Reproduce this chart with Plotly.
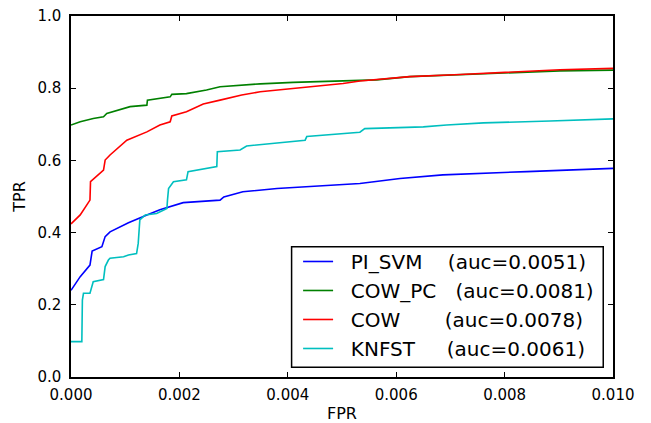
import plotly.graph_objects as go

# ROC curves (FPR limited to 0..0.01)
svm_fpr = [0, 0.00017, 0.00035, 0.00039, 0.00057, 0.00063, 0.00072, 0.00106, 0.0014, 0.00164,
           0.00207, 0.00275, 0.00282, 0.00317, 0.0038, 0.00533, 0.00607, 0.00686, 0.00841, 0.01]
svm_tpr = [0.24, 0.278, 0.31, 0.349, 0.361, 0.389, 0.402, 0.427, 0.449, 0.463,
           0.483, 0.49, 0.499, 0.513, 0.522, 0.536, 0.55, 0.56, 0.569, 0.578]

cowpc_fpr = [0, 0.00017, 0.00041, 0.0006, 0.00066, 0.0009, 0.00109, 0.0014, 0.00141, 0.00183,
             0.00186, 0.00213, 0.0025, 0.00275, 0.00349, 0.0041, 0.00502, 0.00564, 0.00625,
             0.00718, 0.00822, 0.00902, 0.01]
cowpc_tpr = [0.698, 0.707, 0.716, 0.721, 0.73, 0.74, 0.749, 0.753, 0.767, 0.776,
             0.783, 0.785, 0.795, 0.804, 0.812, 0.816, 0.82, 0.823, 0.832,
             0.837, 0.844, 0.848, 0.85]

cow_fpr = [0, 0.00017, 0.00035, 0.00036, 0.0006, 0.00063, 0.00072, 0.0009, 0.00103, 0.0014,
           0.00164, 0.00183, 0.00186, 0.00213, 0.00244, 0.00275, 0.00315, 0.00349, 0.0041,
           0.00502, 0.00533, 0.00625, 0.00718, 0.00822, 0.00902, 0.01]
cow_tpr = [0.424, 0.449, 0.49, 0.541, 0.573, 0.601, 0.615, 0.638, 0.656, 0.679,
           0.698, 0.707, 0.723, 0.735, 0.756, 0.767, 0.781, 0.79, 0.799,
           0.813, 0.82, 0.832, 0.838, 0.846, 0.851, 0.855]

knfst_fpr = [0, 0.0002, 0.00021, 0.00023, 0.00035, 0.00038, 0.00041, 0.0006, 0.00063, 0.00069,
             0.00072, 0.00097, 0.00106, 0.00121, 0.00124, 0.00127, 0.00137, 0.00158, 0.0017,
             0.00177, 0.00178, 0.0018, 0.00189, 0.00213, 0.00216, 0.0025, 0.00269, 0.0027,
             0.00312, 0.00324, 0.00373, 0.00432, 0.00435, 0.00502, 0.00533, 0.00542, 0.0065,
             0.00693, 0.00761, 0.00884, 0.01]
knfst_tpr = [0.098, 0.098, 0.213, 0.232, 0.232, 0.25, 0.264, 0.27, 0.306, 0.324,
             0.329, 0.333, 0.338, 0.342, 0.37, 0.435, 0.449, 0.453, 0.463,
             0.467, 0.49, 0.522, 0.541, 0.546, 0.569, 0.578, 0.583, 0.624,
             0.629, 0.64, 0.647, 0.656, 0.666, 0.675, 0.678, 0.688, 0.693,
             0.698, 0.704, 0.709, 0.715]

names = ["PI_SVM", "COW_PC", "COW", "KNFST"]
aucs = ["0.0051", "0.0081", "0.0078", "0.0061"]
pads = [4, 3, 7, 5]  # spaces between name and auc, as in the reference legend
colors = ["#0000ff", "#008000", "#ff0000", "#00bfbf"]
fprs = [svm_fpr, cowpc_fpr, cow_fpr, knfst_fpr]
tprs = [svm_tpr, cowpc_tpr, cow_tpr, knfst_tpr]

nbsp = "\u00a0"
fig = go.Figure()
for name, auc, pad, color, x, y in zip(names, aucs, pads, colors, fprs, tprs):
    label = nbsp * 2 + name + nbsp * pad + "(auc=" + auc + ")"
    fig.add_trace(go.Scatter(x=x, y=y, mode="lines", name=label, legendgroup=name,
                             line=dict(color=color, width=1.6)))

axis_style = dict(showline=True, linecolor="black", linewidth=1.5, mirror="ticks",
                  ticks="inside", ticklen=5, tickcolor="black", showgrid=False,
                  zeroline=False, automargin=False, tickfont=dict(size=15, color="black"))

fig.update_xaxes(range=[0, 0.01], tickvals=[0, 0.002, 0.004, 0.006, 0.008, 0.01],
                 tickformat=".3f", ticklabelstandoff=3,
                 title=dict(text="FPR", standoff=7, font=dict(size=16)), **axis_style)
fig.update_yaxes(range=[0, 1], tickvals=[0, 0.2, 0.4, 0.6, 0.8, 1.0],
                 tickformat=".1f", ticklabelstandoff=5,
                 title=dict(text="TPR", standoff=8, font=dict(size=16)), **axis_style)

# legend frame, matplotlib style (drawn as a box so its size matches the original)
fig.add_shape(type="rect", xref="paper", yref="paper", x0=0.407, x1=0.982, y0=0.027, y1=0.361,
              line=dict(color="black", width=1.5), fillcolor="white", layer="above")

fig.update_layout(
    width=651, height=423,
    margin=dict(l=71, r=38, t=16, b=46),
    plot_bgcolor="white", paper_bgcolor="white",
    font=dict(family="DejaVu Sans", size=15, color="black"),
    legend=dict(x=0.419, y=0.374, xanchor="left", yanchor="top",
                borderwidth=0, bgcolor="rgba(0,0,0,0)",
                tracegroupgap=0, font=dict(size=20)),
)

fig.write_html("out.html", config={"displayModeBar": False},
               post_script="document.body.style.margin='0';")
